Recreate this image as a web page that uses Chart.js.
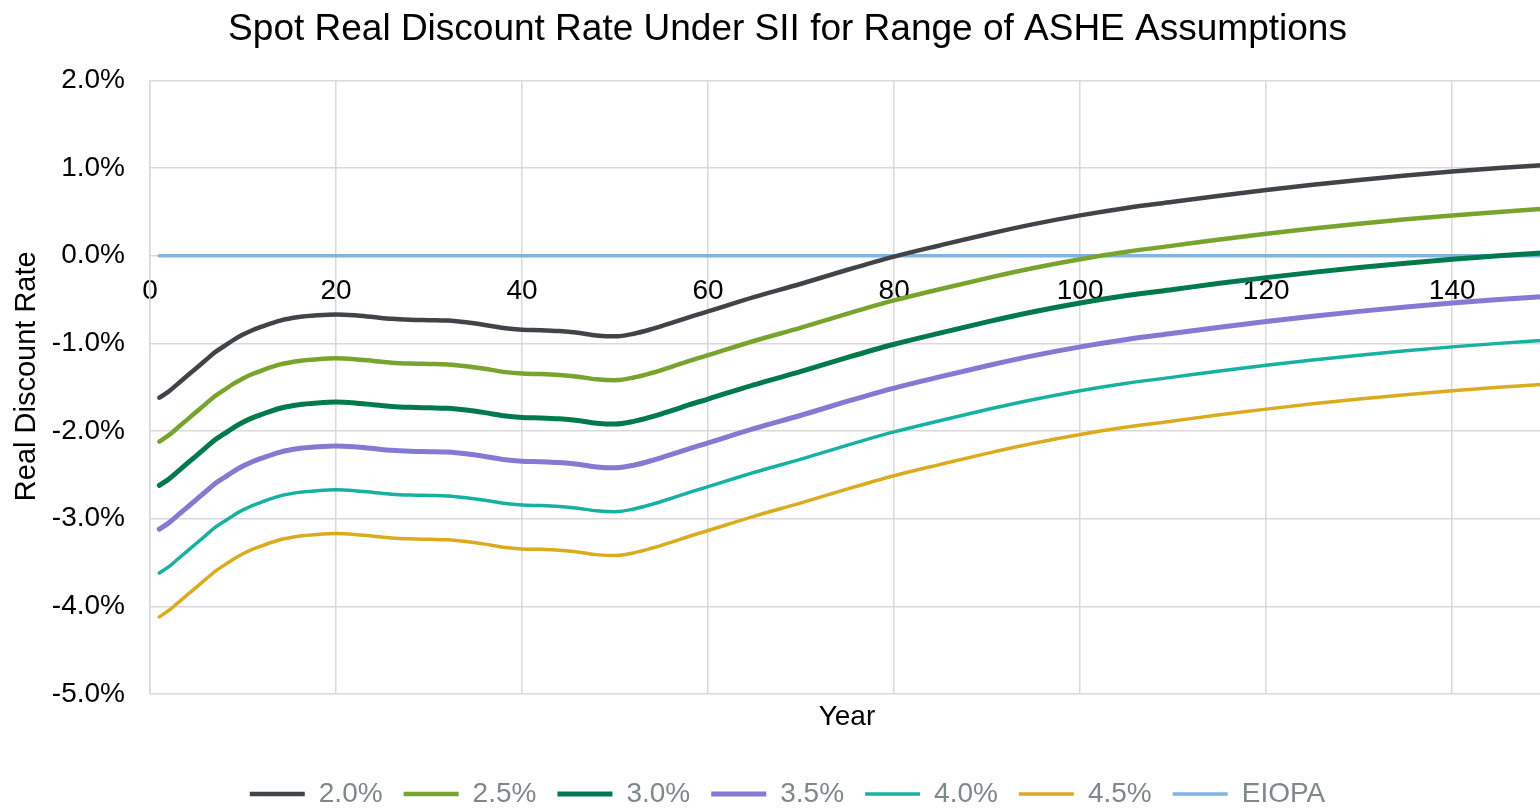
<!DOCTYPE html>
<html>
<head>
<meta charset="utf-8">
<script src="https://cdn.jsdelivr.net/npm/chart.js@4"></script>
<style>
  html, body { margin: 0; padding: 0; background: #fff; overflow: hidden; }
  /* the original chart is a little wider than the window; its right edge is cropped */
  #rateChart { display: block; }
</style>
</head>
<body>
<canvas id="rateChart" width="1575" height="811"></canvas>
<script>
// years (x) and spot real discount rates in %
const years = [1,2,3,4,5,6,7,8,9,10,11,12,14,16,18,20,22,24,26,28,30,32,34,36,38,40,42,44,46,48,50,52,54,56,58,60,65,70,75,80,85,90,95,100,105,110,115,120,125,130,135,140,145,150];

const ashe20 = [-1.62,-1.55,-1.46,-1.37,-1.28,-1.19,-1.10,-1.03,-0.96,-0.90,-0.85,-0.81,-0.74,-0.70,-0.68,-0.67,-0.68,-0.70,-0.72,-0.73,-0.735,-0.74,-0.76,-0.79,-0.825,-0.845,-0.85,-0.86,-0.88,-0.91,-0.92,-0.89,-0.835,-0.77,-0.70,-0.635,-0.47,-0.32,-0.16,-0.01,0.12,0.245,0.36,0.46,0.545,0.615,0.685,0.75,0.81,0.865,0.915,0.96,1.00,1.035];
const ashe25 = [-2.12,-2.05,-1.96,-1.87,-1.78,-1.69,-1.60,-1.53,-1.46,-1.40,-1.35,-1.31,-1.24,-1.20,-1.18,-1.17,-1.18,-1.20,-1.22,-1.23,-1.235,-1.24,-1.26,-1.29,-1.325,-1.345,-1.35,-1.36,-1.38,-1.41,-1.42,-1.39,-1.335,-1.27,-1.20,-1.135,-0.97,-0.82,-0.66,-0.51,-0.38,-0.255,-0.14,-0.04,0.045,0.115,0.185,0.25,0.31,0.365,0.415,0.46,0.50,0.535];
const ashe30 = [-2.62,-2.55,-2.46,-2.37,-2.28,-2.19,-2.10,-2.03,-1.96,-1.90,-1.85,-1.81,-1.74,-1.70,-1.68,-1.67,-1.68,-1.70,-1.72,-1.73,-1.735,-1.74,-1.76,-1.79,-1.825,-1.845,-1.85,-1.86,-1.88,-1.91,-1.92,-1.89,-1.835,-1.77,-1.70,-1.635,-1.47,-1.32,-1.16,-1.01,-0.88,-0.755,-0.64,-0.54,-0.455,-0.385,-0.315,-0.25,-0.19,-0.135,-0.085,-0.04,0.00,0.035];
const ashe35 = [-3.12,-3.05,-2.96,-2.87,-2.78,-2.69,-2.60,-2.53,-2.46,-2.40,-2.35,-2.31,-2.24,-2.20,-2.18,-2.17,-2.18,-2.20,-2.22,-2.23,-2.235,-2.24,-2.26,-2.29,-2.325,-2.345,-2.35,-2.36,-2.38,-2.41,-2.42,-2.39,-2.335,-2.27,-2.20,-2.135,-1.97,-1.82,-1.66,-1.51,-1.38,-1.255,-1.14,-1.04,-0.955,-0.885,-0.815,-0.75,-0.69,-0.635,-0.585,-0.54,-0.50,-0.465];
const ashe40 = [-3.62,-3.55,-3.46,-3.37,-3.28,-3.19,-3.10,-3.03,-2.96,-2.90,-2.85,-2.81,-2.74,-2.70,-2.68,-2.67,-2.68,-2.70,-2.72,-2.73,-2.735,-2.74,-2.76,-2.79,-2.825,-2.845,-2.85,-2.86,-2.88,-2.91,-2.92,-2.89,-2.835,-2.77,-2.70,-2.635,-2.47,-2.32,-2.16,-2.01,-1.88,-1.755,-1.64,-1.54,-1.455,-1.385,-1.315,-1.25,-1.19,-1.135,-1.085,-1.04,-1.00,-0.965];
const ashe45 = [-4.12,-4.05,-3.96,-3.87,-3.78,-3.69,-3.60,-3.53,-3.46,-3.40,-3.35,-3.31,-3.24,-3.20,-3.18,-3.17,-3.18,-3.20,-3.22,-3.23,-3.235,-3.24,-3.26,-3.29,-3.325,-3.345,-3.35,-3.36,-3.38,-3.41,-3.42,-3.39,-3.335,-3.27,-3.20,-3.135,-2.97,-2.82,-2.66,-2.51,-2.38,-2.255,-2.14,-2.04,-1.955,-1.885,-1.815,-1.75,-1.69,-1.635,-1.585,-1.54,-1.50,-1.465];
const eiopa = [0,0,0,0,0,0,0,0,0,0,0,0,0,0,0,0,0,0,0,0,0,0,0,0,0,0,0,0,0,0,0,0,0,0,0,0,0,0,0,0,0,0,0,0,0,0,0,0,0,0,0,0,0,0];

const seriesNames = ['2.0%', '2.5%', '3.0%', '3.5%', '4.0%', '4.5%', 'EIOPA'];
const seriesData = [ashe20, ashe25, ashe30, ashe35, ashe40, ashe45, eiopa];
const colours = ['#404449', '#78a42e', '#007a4c', '#8479d3', '#17b1a1', '#dbab1e', '#80b4e4'];
const widths = [4.5, 4.5, 5, 5, 3.5, 3.5, 3.5];

const yTicks = [-5, -4, -3, -2, -1, 0, 1, 2];
const xTicks = [0, 20, 40, 60, 80, 100, 120, 140];

const FONT = '"Liberation Sans", Arial, sans-serif';
const gridCol = '#d9d9d9';

const datasets = seriesNames.map((name, i) => ({
  label: name,
  data: seriesData[i],
  borderColor: colours[i],
  backgroundColor: colours[i],
  borderWidth: widths[i],
  borderCapStyle: 'round',
  pointRadius: 0,
  cubicInterpolationMode: 'monotone',
  fill: false
}));

const ctx = document.getElementById('rateChart').getContext('2d');
new Chart(ctx, {
  type: 'line',
  data: { labels: years, datasets: datasets },
  options: {
    responsive: false,
    animation: false,
    layout: { padding: 0 },
    scales: {
      x: {
        type: 'linear',
        position: { y: 0 },
        min: 0,
        max: 153.2, // canvas runs past the window edge, year 150 sits near x=1545
        afterBuildTicks: s => { s.ticks = xTicks.map(v => ({ value: v })); },
        ticks: { color: '#000', font: { family: FONT, size: 28 }, padding: 19, maxRotation: 0 },
        grid: { color: gridCol, lineWidth: 1.5, drawTicks: false },
        border: { display: false }
      },
      xTitle: {
        axis: 'x',
        type: 'linear',
        position: 'bottom',
        ticks: { display: false },
        grid: { display: false, drawTicks: false },
        border: { display: false },
        afterFit: s => { s.height = 65; },
        title: { display: true, text: 'Year    ', color: '#000', font: { family: FONT, size: 28 }, padding: { top: 0, bottom: 25 } }
      },
      y: {
        min: -5,
        max: 2,
        afterBuildTicks: s => { s.ticks = yTicks.map(v => ({ value: v })); },
        afterFit: s => { s.width = 150; },
        ticks: { color: '#000', font: { family: FONT, size: 28 }, padding: 25, callback: v => v.toFixed(1) + '%' },
        grid: { color: gridCol, lineWidth: 1.5, drawTicks: false },
        border: { color: gridCol, width: 1.5 },
        title: { display: true, text: '  \u2009Real Discount Rate', color: '#000', font: { family: FONT, size: 29 }, padding: { top: 10, bottom: 0 } }
      }
    },
    plugins: {
      title: {
        display: true,
        text: 'Spot Real Discount Rate Under SII for Range of ASHE Assumptions',
        color: '#000',
        font: { family: FONT, size: 37, weight: 'normal' },
        padding: { top: 8, bottom: 28 }
      },
      legend: {
        position: 'bottom',
        maxHeight: 52,
        labels: {
          color: '#7f878b',
          font: { family: FONT, size: 28 },
          usePointStyle: true,
          pointStyle: 'line',
          pointStyleWidth: 55,
          padding: 21
        }
      },
      tooltip: { enabled: false }
    }
  }
});
</script>
</body>
</html>
